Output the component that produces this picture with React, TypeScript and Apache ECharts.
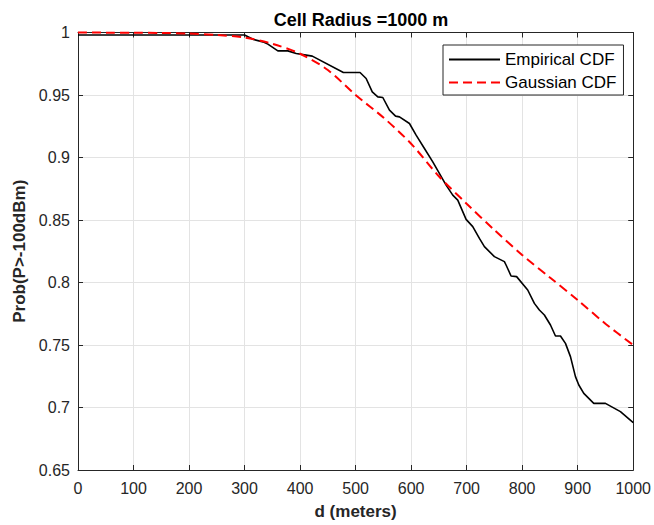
import React, { useEffect, useRef } from "react";
import * as echarts from "echarts";

const titleText = "Cell Radius =1000 m";
const xName = "d (meters)";
const yName = "Prob(P>-100dBm)";
const seriesNames = ["Empirical CDF", "Gaussian CDF"];

const empiricalD = [0, 300, 316, 333, 342, 360, 378, 393, 411, 422, 478, 508, 519, 530, 540, 549, 561, 572, 579, 597, 609, 624, 639, 663, 675, 684, 699, 711, 723, 732, 750, 768, 771, 780, 790, 810, 822, 831, 840, 851, 860, 869, 878, 887, 896, 902, 911, 929, 950, 977, 1000];
const empiricalP = [0.998, 0.998, 0.9944, 0.9925, 0.9907, 0.9853, 0.9853, 0.9832, 0.9819, 0.9811, 0.968, 0.968, 0.9632, 0.9525, 0.9485, 0.948, 0.9379, 0.9331, 0.9325, 0.9272, 0.9179, 0.9072, 0.8965, 0.8779, 0.8699, 0.8659, 0.8505, 0.8447, 0.8353, 0.8287, 0.8207, 0.8167, 0.814, 0.8052, 0.8047, 0.794, 0.7833, 0.778, 0.774, 0.766, 0.7572, 0.7572, 0.7513, 0.7407, 0.7247, 0.718, 0.7113, 0.7033, 0.7033, 0.6967, 0.6879];

const gaussianD = [0, 50, 100, 150, 200, 250, 300, 350, 400, 450, 500, 550, 600, 650, 700, 750, 800, 850, 900, 950, 1000];
const gaussianP = [1.0, 0.9999, 0.9998, 0.9996, 0.9992, 0.998, 0.996, 0.991, 0.983, 0.97, 0.95, 0.932, 0.911, 0.885, 0.863, 0.842, 0.822, 0.804, 0.786, 0.767, 0.75];

const xMin = 0, xMax = 1000, xStep = 100;
const yMin = 0.65, yMax = 1, yStep = 0.05;

const FONT = "Liberation Sans, Arial, Helvetica, sans-serif";
const INK = "#262626";

export default function App() {
  const ref = useRef<HTMLDivElement>(null);
  useEffect(() => {
    const chart = echarts.init(ref.current!, null, { renderer: "svg" });
    const empData = empiricalD.map((d, i) => [d, empiricalP[i]]);
    const gData = gaussianD.map((d, i) => [d, gaussianP[i]]);
    const baseX = {
      type: "value" as const,
      min: xMin,
      max: xMax,
      interval: xStep,
    };
    const baseY = {
      type: "value" as const,
      min: yMin,
      max: yMax,
      interval: yStep,
    };
    chart.setOption({
      animation: false,
      backgroundColor: "#ffffff",
      textStyle: { fontFamily: FONT },
      title: {
        text: titleText,
        left: 356,
        top: 6,
        textAlign: "center",
        textStyle: { fontFamily: FONT, fontSize: 18, fontWeight: "bold", color: "#000" },
      },
      grid: { left: 78, right: 20, top: 32.5, bottom: 55 },
      legend: {
        orient: "vertical",
        left: 443,
        top: 45,
        padding: [6, 7, 4, 5],
        itemGap: 6,
        itemWidth: 51,
        itemHeight: 14,
        borderColor: INK,
        borderWidth: 1,
        backgroundColor: "#fff",
        textStyle: { fontFamily: FONT, fontSize: 17, color: "#000", padding: [0, 0, 0, 0] },
        data: seriesNames.map((n) => ({ name: n, itemStyle: { opacity: 0 } })),
      },
      xAxis: [
        {
          ...baseX,
          name: xName,
          nameLocation: "middle",
          nameGap: 33,
          nameTextStyle: { fontFamily: FONT, fontSize: 17, fontWeight: "bold", color: INK },
          axisLine: { show: true, onZero: false, lineStyle: { color: INK, width: 1 } },
          axisTick: { show: true, inside: true, length: 5, lineStyle: { color: INK } },
          axisLabel: { fontFamily: FONT, fontSize: 16, color: INK, margin: 10, formatter: (v: number) => String(v) },
          splitLine: { show: true, lineStyle: { color: "#e3e3e3", width: 1 } },
        },
        {
          ...baseX,
          position: "top",
          axisLine: { show: true, onZero: false, lineStyle: { color: INK, width: 1 } },
          axisTick: { show: true, inside: true, length: 5, lineStyle: { color: INK } },
          axisLabel: { show: false },
          splitLine: { show: false },
        },
      ],
      yAxis: [
        {
          ...baseY,
          name: yName,
          nameLocation: "middle",
          nameGap: 49,
          nameTextStyle: { fontFamily: FONT, fontSize: 17, fontWeight: "bold", color: INK },
          axisLine: { show: true, onZero: false, lineStyle: { color: INK, width: 1 } },
          axisTick: { show: true, inside: true, length: 5, lineStyle: { color: INK } },
          axisLabel: { fontFamily: FONT, fontSize: 16, color: INK, margin: 8, formatter: (v: number) => String(parseFloat(v.toFixed(2))) },
          splitLine: { show: true, lineStyle: { color: "#e3e3e3", width: 1 } },
        },
        {
          ...baseY,
          position: "right",
          axisLine: { show: true, onZero: false, lineStyle: { color: INK, width: 1 } },
          axisTick: { show: true, inside: true, length: 5, lineStyle: { color: INK } },
          axisLabel: { show: false },
          splitLine: { show: false },
        },
      ],
      series: [
        {
          name: seriesNames[0],
          type: "line",
          xAxisIndex: 0,
          yAxisIndex: 0,
          data: empData,
          symbol: "none",
          clip: false,
          lineStyle: { color: "#000", width: 1.6 },
          itemStyle: { color: "#000" },
          z: 3,
        },
        {
          name: seriesNames[1],
          type: "line",
          xAxisIndex: 0,
          yAxisIndex: 0,
          data: gData,
          symbol: "none",
          smooth: 0.3,
          clip: false,
          lineStyle: { color: "#ff0000", width: 2, type: [9, 5] },
          itemStyle: { color: "#ff0000" },
          z: 4,
        },
      ],
    });
    return () => chart.dispose();
  }, []);
  return (
    <div
      ref={ref}
      style={{ position: "fixed", left: 0, top: 0, width: 654, height: 525, background: "#fff" }}
    />
  );
}
